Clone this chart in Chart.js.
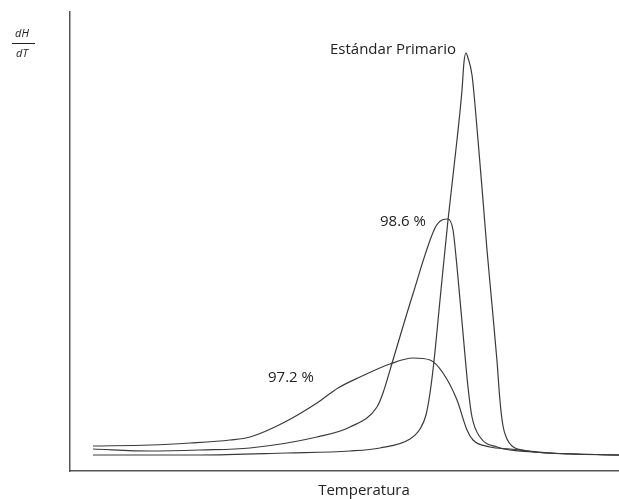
<!DOCTYPE html>
<html>
<head>
<meta charset="utf-8">
<script src="https://cdn.jsdelivr.net/npm/chart.js@4.4.1/dist/chart.umd.min.js"></script>
<style>
  html, body { margin: 0; padding: 0; background: #fff; }
  #wrap { position: relative; width: 619px; height: 499px; }
</style>
</head>
<body>
<div id="wrap"><canvas id="dscChart" width="619" height="499"></canvas></div>
<script>
// temperature axis (arbitrary units) and dH/dT (arbitrary units)
const tempStd = [23, 130, 217, 280, 310, 340, 350, 356, 360, 364, 370, 378, 387, 392, 394, 396, 398, 402, 408, 413, 417, 422, 427, 430, 433, 437, 442, 457, 480, 549];
const dhStd = [16, 16, 18, 20, 23, 32, 42, 56, 78, 110, 171, 251, 331, 381, 409, 418, 413, 396, 331, 271, 221, 166, 110, 70, 45, 32, 25, 20, 18, 16];

const temp986 = [23, 80, 130, 180, 247, 280, 307, 313, 323, 342, 365, 372, 378, 383, 387, 393, 398, 402, 410, 427, 463, 500, 549];
const dh986 = [22, 20, 21, 23, 34, 44, 64, 78, 111, 174, 243, 251, 252, 241, 204, 138, 84, 54, 34, 24, 19, 17, 16];

const temp972 = [23, 80, 120, 160, 180, 213, 247, 268, 290, 320, 343, 360, 373, 387, 397, 403, 420, 440, 480, 549];
const dh972 = [25, 26, 28, 31, 34, 48, 68, 83, 94, 107, 113, 111, 98, 71, 41, 31, 24, 22, 18, 16];

const curveLabels = [
  { text: "Estándar Primario", x: 260, y: 421 },
  { text: "98.6 %", x: 310, y: 249 },
  { text: "97.2 %", x: 198, y: 93 }
];

const lineColor = "#3a3a3a";

function makeSeries(xs, ys) {
  return xs.map((x, i) => ({ x: x, y: ys[i] }));
}

function lineDataset(label, xs, ys) {
  return {
    label: label,
    data: makeSeries(xs, ys),
    borderColor: lineColor,
    borderWidth: 1.2,
    pointRadius: 0,
    fill: false,
    cubicInterpolationMode: "monotone"
  };
}

const textPlugin = {
  id: "textPlugin",
  afterDraw(chart) {
    const ctx = chart.ctx;
    const xs = chart.scales.x;
    const ys = chart.scales.y;
    ctx.save();
    ctx.fillStyle = "#222";
    ctx.font = "15px 'Open Sans'";
    ctx.textBaseline = "middle";
    ctx.textAlign = "left";
    curveLabels.forEach(l => {
      ctx.fillText(l.text, xs.getPixelForValue(l.x), ys.getPixelForValue(l.y));
    });

    // axis titles
    ctx.textAlign = "center";
    ctx.fillText("Temperatura", 364, 491);

    ctx.font = "italic 11px 'Open Sans'";
    ctx.fillText("dH", 22, 34);
    ctx.fillText("dT", 22, 54);
    ctx.strokeStyle = "#222";
    ctx.lineWidth = 1;
    ctx.beginPath();
    ctx.moveTo(12, 43.5);
    ctx.lineTo(35, 43.5);
    ctx.stroke();
    ctx.restore();
  }
};

new Chart(document.getElementById("dscChart"), {
  type: "line",
  data: {
    datasets: [
      lineDataset("Estándar Primario", tempStd, dhStd),
      lineDataset("98.6 %", temp986, dh986),
      lineDataset("97.2 %", temp972, dh972)
    ]
  },
  options: {
    responsive: false,
    animation: false,
    layout: { padding: { left: 70, right: 0, top: 12, bottom: 28 } },
    plugins: {
      legend: { display: false },
      tooltip: { enabled: false }
    },
    scales: {
      x: {
        type: "linear",
        min: 0,
        max: 549,
        ticks: { display: false },
        grid: { display: false },
        border: { display: true, color: "#555", width: 1.5 },
        afterFit(scale) { scale.height = 0; }
      },
      y: {
        min: 0,
        max: 459,
        ticks: { display: false },
        grid: { display: false },
        border: { display: true, color: "#555", width: 1.5 },
        afterFit(scale) { scale.width = 0; }
      }
    }
  },
  plugins: [textPlugin]
});
</script>
</body>
</html>
